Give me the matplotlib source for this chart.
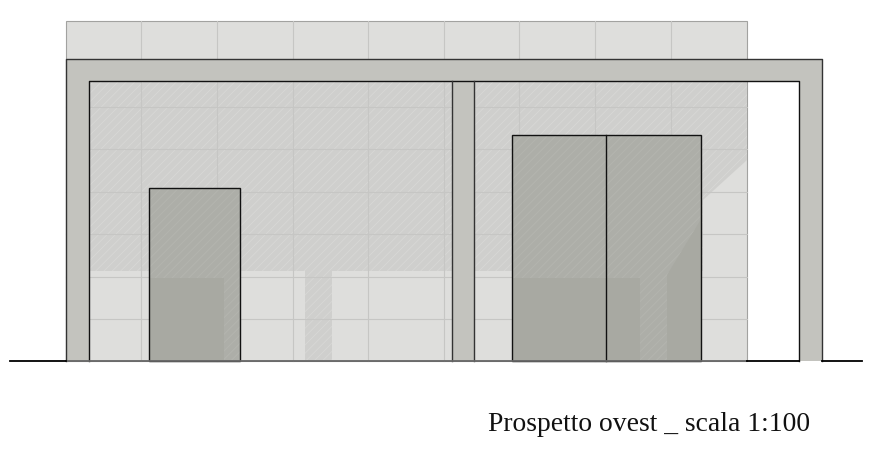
import matplotlib
matplotlib.use("Agg")
import matplotlib.pyplot as plt
from matplotlib.patches import Polygon, Rectangle

# everything is measured in reference pixels, y going down
WALL = (65.5, 21, 747, 361)
PANEL_X = [141, 217, 292.5, 368, 444, 519, 595, 671]
PANEL_Y = [106.5, 149, 191.5, 234, 276.5, 319]
FRAME_OUT = (65.5, 59, 822, 361)
FRAME_IN = (88.5, 81, 798.5, 361)
COLUMN = (451.5, 81, 474, 361)
DOOR_LEFT = (149, 187.5, 239.5, 361)
DOOR_RIGHT = (512, 135, 700.5, 361)
DOOR_MID_X = 606
GROUND_Y = 361
GROUND_BLACK = [(10, 65.5), (747, 798.5), (822, 862)]
GROUND_GREY = (65.5, 747)

WALL_SHADOW_X = [88.5, 747, 747, 703, 703, 512, 512, 332, 332, 305, 305, 88.5]
WALL_SHADOW_Y = [81, 81, 160, 200, 271, 271, 271, 271, 360, 360, 271, 271]
DOOR_L_SHADOW_X = [149, 239.5, 239.5, 224, 224, 149]
DOOR_L_SHADOW_Y = [187.5, 187.5, 360, 360, 278, 278]
DOOR_R_SHADOW_X = [512, 700.5, 700.5, 667, 667, 640, 640, 512]
DOOR_R_SHADOW_Y = [135, 135, 220, 275, 360, 360, 278, 278]

TITLE = "Prospetto ovest _ scala 1:100"

WALL_COL = "#dededc"
SHADOW_COL = "#cfcfcd"
SHADOW_HATCH = "#d8d8d6"
PANEL_COL = "#c6c6c4"
FRAME_COL = "#c3c3be"
DOOR_COL = "#a8a9a2"
DOOR_SHADOW_COL = "#adaea8"
DOOR_HATCH = "#b4b5af"
DARK = "#111111"


def box(ax, rect, **kw):
    x0, y0, x1, y1 = rect
    ax.add_patch(Rectangle((x0, y0), x1 - x0, y1 - y0, **kw))


plt.rcParams["hatch.linewidth"] = 0.6
fig = plt.figure(figsize=(8.92, 4.72), dpi=100)
ax = fig.add_axes([0, 0, 1, 1])
ax.set_xlim(0, 892)
ax.set_ylim(472, 0)
ax.axis("off")

# wall behind the frame, with the hatched shadow on it
box(ax, WALL, facecolor=WALL_COL, edgecolor="#a2a2a0", linewidth=0.8, zorder=1)
ax.add_patch(Polygon(list(zip(WALL_SHADOW_X, WALL_SHADOW_Y)), facecolor=SHADOW_COL,
                     edgecolor=SHADOW_HATCH, hatch="/" * 4, linewidth=0, zorder=2))
for x in PANEL_X:
    ax.plot([x, x], [WALL[1], WALL[3]], color=PANEL_COL, lw=0.8, zorder=3)
for y in PANEL_Y:
    ax.plot([WALL[0], WALL[2]], [y, y], color=PANEL_COL, lw=0.8, zorder=3)

# frame: top beam, two outer posts and the middle column
x0, y0, x1, y1 = FRAME_OUT
ix0, iy0, ix1, iy1 = FRAME_IN
box(ax, (x0, y0, x1, iy0), facecolor=FRAME_COL, edgecolor="none", zorder=4)
box(ax, (x0, y0, ix0, y1), facecolor=FRAME_COL, edgecolor="none", zorder=4)
box(ax, (ix1, y0, x1, y1), facecolor=FRAME_COL, edgecolor="none", zorder=4)
box(ax, COLUMN, facecolor=FRAME_COL, edgecolor="none", zorder=4)
ax.plot([x0, x0, x1, x1], [y1, y0, y0, y1], color="#333333", lw=1.0, zorder=5)
ax.plot([ix0, ix0, ix1, ix1], [y1, iy0, iy0, y1], color=DARK, lw=1.0, zorder=5)
for x in (COLUMN[0], COLUMN[2]):
    ax.plot([x, x], [iy0, y1], color="#333333", lw=1.0, zorder=5)

# doors
for rect in (DOOR_LEFT, DOOR_RIGHT):
    box(ax, rect, facecolor=DOOR_COL, edgecolor="none", zorder=6)
for xs, ys in ((DOOR_L_SHADOW_X, DOOR_L_SHADOW_Y), (DOOR_R_SHADOW_X, DOOR_R_SHADOW_Y)):
    ax.add_patch(Polygon(list(zip(xs, ys)), facecolor=DOOR_SHADOW_COL, edgecolor=DOOR_HATCH,
                         hatch="/" * 4, linewidth=0, zorder=7))
for rect in (DOOR_LEFT, DOOR_RIGHT):
    box(ax, rect, facecolor="none", edgecolor=DARK, linewidth=1.0, zorder=8)
ax.plot([DOOR_MID_X, DOOR_MID_X], [DOOR_RIGHT[1], DOOR_RIGHT[3]], color=DARK, lw=1.0, zorder=8)

# ground line
ax.plot(GROUND_GREY, [GROUND_Y, GROUND_Y], color="#666666", lw=1.3, zorder=9)
for seg in GROUND_BLACK:
    ax.plot(seg, [GROUND_Y, GROUND_Y], color="#000000", lw=1.3, zorder=9)

ax.text(488, 431, TITLE, family="Liberation Serif", fontsize=19.9, color="#111111",
        ha="left", va="baseline")

fig.savefig("out.png", dpi=100)
